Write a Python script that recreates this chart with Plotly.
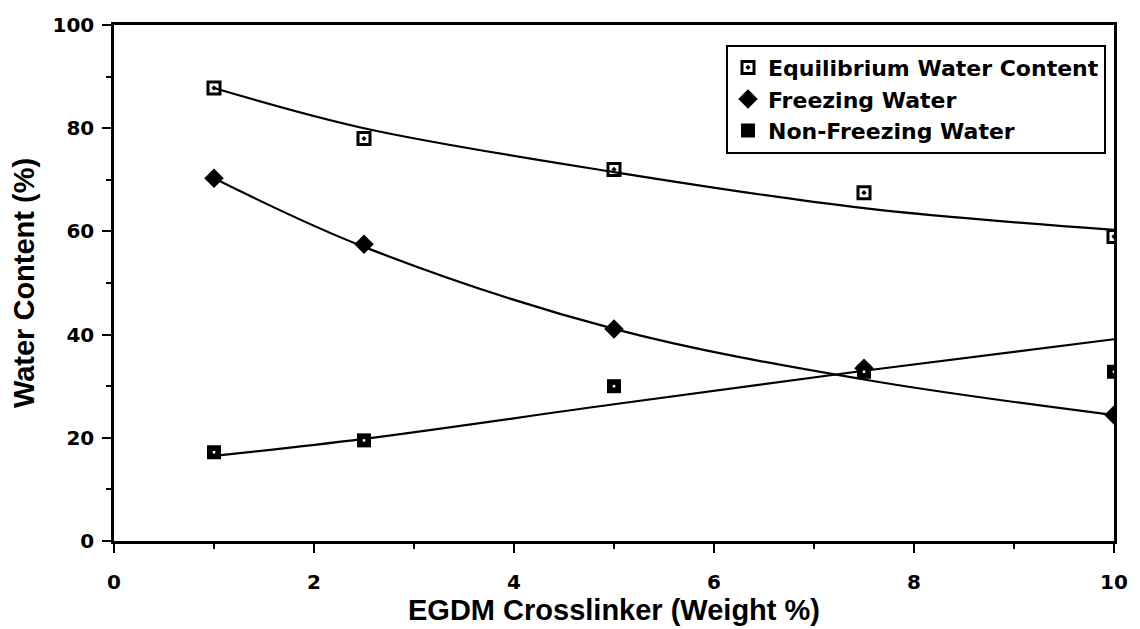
import plotly.graph_objects as go

# EGDM crosslinker content (weight %)
crosslinker = [1, 2.5, 5, 7.5, 10]

# Measured water contents (%)
ewc = [87.8, 78.0, 72.0, 67.5, 59.0]
freezing = [70.3, 57.5, 41.1, 33.5, 24.4]
non_freezing = [17.2, 19.5, 30.0, 32.8, 32.8]

# Smoothed trend curves through each series (%)
ewc_trend = [87.8, 80.0, 71.5, 64.5, 60.3]
freezing_trend = [70.3, 57.0, 41.1, 31.3, 24.4]
non_freezing_trend = [16.5, 19.8, 26.5, 33.0, 39.1]

x_ticks = [0, 2, 4, 6, 8, 10]
y_ticks = [0, 20, 40, 60, 80, 100]

TICK_FONT = dict(family="DejaVu Sans", size=20, color="black", weight="bold")
TITLE_FONT = dict(family="Liberation Sans", size=29, color="black", weight="bold")
LEGEND_FONT = dict(family="DejaVu Sans", size=22, color="black", weight="bold")

fig = go.Figure()

for trend in (ewc_trend, freezing_trend, non_freezing_trend):
    fig.add_trace(go.Scatter(
        x=crosslinker, y=trend, mode="lines",
        line=dict(color="black", width=2.2, shape="spline", smoothing=1.0),
        showlegend=False, hoverinfo="skip",
    ))

fig.add_trace(go.Scatter(
    x=crosslinker, y=ewc, mode="markers", name="Equilibrium Water Content",
    marker=dict(symbol="square-open-dot", size=12, color="black",
                line=dict(color="black", width=3)),
))
fig.add_trace(go.Scatter(
    x=crosslinker, y=freezing, mode="markers", name="Freezing Water",
    marker=dict(symbol="diamond", size=15, color="black",
                line=dict(color="black", width=0)),
))
fig.add_trace(go.Scatter(
    x=crosslinker, y=non_freezing, mode="markers", name="Non-Freezing Water",
    marker=dict(symbol="square", size=14, color="black",
                line=dict(color="black", width=0)),
))
# white centre of the filled squares
fig.add_trace(go.Scatter(
    x=crosslinker, y=non_freezing, mode="markers", showlegend=False,
    marker=dict(symbol="square", size=2.5, color="white", line=dict(width=0)),
    hoverinfo="skip",
))

fig.update_layout(
    width=1140, height=629,
    margin=dict(l=114, r=15, t=25, b=88),
    paper_bgcolor="white", plot_bgcolor="white",
    showlegend=True,
    legend=dict(
        x=0.612, y=0.962, xanchor="left", yanchor="top",
        bgcolor="white", bordercolor="black", borderwidth=2,
        font=LEGEND_FONT, tracegroupgap=0, itemsizing="trace",
    ),
)

fig.update_xaxes(
    range=[0, 10], tickvals=x_ticks, ticktext=[str(v) for v in x_ticks],
    showgrid=False, zeroline=False,
    showline=True, linecolor="black", linewidth=2.5, mirror=True,
    ticks="outside", ticklen=9, tickwidth=2, tickcolor="black",
    minor=dict(dtick=1, ticks="outside", ticklen=5, tickwidth=2, tickcolor="black"),
    tickfont=TICK_FONT, ticklabelstandoff=12,
    title=dict(text="EGDM Crosslinker (Weight %)", font=TITLE_FONT, standoff=2),
)
fig.update_yaxes(
    range=[0, 100], tickvals=y_ticks, ticktext=[str(v) for v in y_ticks],
    showgrid=False, zeroline=False,
    showline=True, linecolor="black", linewidth=2.5, mirror=True,
    ticks="outside", ticklen=9, tickwidth=2, tickcolor="black",
    minor=dict(dtick=10, ticks="outside", ticklen=5, tickwidth=2, tickcolor="black"),
    tickfont=TICK_FONT, ticklabelstandoff=4,
    title=dict(text="Water Content (%)", font=TITLE_FONT, standoff=10),
)

fig.write_html("out.html")
